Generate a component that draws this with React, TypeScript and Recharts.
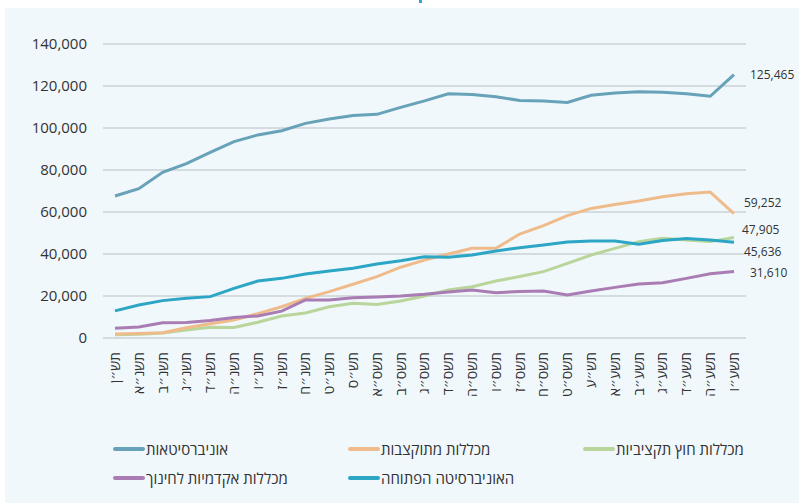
import React from "react";
import { LineChart, Line, XAxis, YAxis, CartesianGrid, Legend } from "recharts";

const years = [
  "תש״ן", "תשנ״א", "תשנ״ב", "תשנ״ג", "תשנ״ד", "תשנ״ה", "תשנ״ו", "תשנ״ז", "תשנ״ח", "תשנ״ט",
  "תש״ס", "תשס״א", "תשס״ב", "תשס״ג", "תשס״ד", "תשס״ה", "תשס״ו", "תשס״ז", "תשס״ח", "תשס״ט",
  "תש״ע", "תשע״א", "תשע״ב", "תשע״ג", "תשע״ד", "תשע״ה", "תשע״ו",
];

const universities = [
  67600, 71100, 78900, 83000, 88400, 93500, 96700, 98700, 102200, 104300,
  106000, 106500, 109800, 112900, 116300, 115900, 114900, 113100, 112900, 112200,
  115600, 116700, 117300, 117000, 116300, 115100, 125465,
];
const budgetedColleges = [
  1900, 2100, 2500, 4900, 6800, 8600, 11600, 14900, 18900, 22100,
  25600, 29200, 33700, 37100, 40000, 42700, 42700, 49500, 53500, 58300,
  61700, 63600, 65200, 67300, 68700, 69500, 59252,
];
const nonBudgetedColleges = [
  1600, 1800, 2400, 3800, 5100, 5000, 7500, 10500, 11900, 14900,
  16500, 16000, 17600, 20000, 22900, 24400, 27100, 29300, 31600, 35500,
  39500, 42700, 45900, 47500, 46700, 45900, 47905,
];
const educationColleges = [
  4600, 5200, 7300, 7400, 8300, 9800, 10500, 12800, 18100, 18100,
  19200, 19500, 20000, 20800, 21900, 22900, 21600, 22200, 22400, 20500,
  22400, 24100, 25700, 26300, 28400, 30600, 31610,
];
const openUniversity = [
  12900, 15700, 17800, 18900, 19700, 23600, 27100, 28400, 30500, 31900,
  33200, 35200, 36800, 38700, 38400, 39500, 41400, 43000, 44300, 45700,
  46200, 46200, 44600, 46400, 47400, 46700, 45636,
];

const yTicks = [0, 20000, 40000, 60000, 80000, 100000, 120000, 140000];

const seriesNames = {
  uni: "אוניברסיטאות",
  budget: "מכללות מתוקצבות",
  nonBudget: "מכללות חוץ תקציביות",
  edu: "מכללות אקדמיות לחינוך",
  open: "האוניברסיטה הפתוחה",
};

const colors = {
  uni: "#67a2b9",
  budget: "#f0bb8b",
  nonBudget: "#b9d59b",
  edu: "#a97cb4",
  open: "#2ca6c4",
};

const data = years.map((y, i) => ({
  year: y,
  uni: universities[i],
  budget: budgetedColleges[i],
  nonBudget: nonBudgetedColleges[i],
  edu: educationColleges[i],
  open: openUniversity[i],
}));

const FONT = "'Open Sans', 'DejaVu Sans', sans-serif";
const fmt = (v: number) => v.toLocaleString("en-US");

const lastIndex = years.length - 1;

const makeEndLabel = (dx: number, dy: number) => (props: any) => {
  const { x, y, index, value } = props;
  if (index !== lastIndex) return null;
  return (
    <text
      x={x + dx}
      y={y + dy}
      fill="#333"
      fontSize={12}
      fontFamily={FONT}
      dominantBaseline="central"
      textAnchor="start"
    >
      {fmt(value)}
    </text>
  );
};

const XTick = (props: any) => {
  const { x, y, payload } = props;
  return (
    <g transform={`translate(${x},${y})`}>
      <text
        transform="rotate(-90)"
        x={-12}
        y={0}
        dy="0.35em"
        textAnchor="end"
        fill="#333"
        fontSize={14}
        fontFamily={FONT}
      >
        {payload.value}
      </text>
    </g>
  );
};

const legendLayout = [
  { key: "uni", left: 113, top: 21 },
  { key: "budget", left: 348, top: 21 },
  { key: "nonBudget", left: 583, top: 21 },
  { key: "edu", left: 113, top: 50 },
  { key: "open", left: 348, top: 50 },
];

const LegendContent = () => (
  <div style={{ position: "relative", width: 799, height: 70 }}>
    {legendLayout.map((it) => (
      <div
        key={it.key}
        style={{
          position: "absolute",
          left: it.left,
          top: it.top - 11,
          height: 22,
          display: "flex",
          alignItems: "center",
          fontFamily: FONT,
          fontSize: 15,
          color: "#333",
          whiteSpace: "nowrap",
        }}
      >
        <span
          style={{
            display: "inline-block",
            width: 32,
            height: 4,
            borderRadius: 2,
            background: (colors as any)[it.key],
            marginRight: 1,
          }}
        />
        <span style={{ direction: "rtl" }}>{(seriesNames as any)[it.key]}</span>
      </div>
    ))}
  </div>
);

export default function App() {
  return (
    <div
      style={{
        position: "absolute",
        left: 0,
        top: 0,
        width: 799,
        height: 503,
        background: "#ffffff",
        overflow: "hidden",
      }}
    >
      <div
        style={{
          position: "absolute",
          left: 5,
          top: 8,
          right: 0,
          bottom: 0,
          background: "#f0f8fc",
        }}
      />
      <div
        style={{
          position: "absolute",
          left: 419,
          top: 0,
          width: 3,
          height: 3,
          background: "#2ca6d8",
        }}
      />
      <div style={{ position: "absolute", left: 0, top: 0 }}>
        <LineChart
          width={799}
          height={503}
          data={data}
          margin={{ top: 44, right: 53, bottom: 5, left: 0 }}
        >
          <CartesianGrid
            vertical={false}
            stroke="#cdd3d6"
            strokeWidth={1.5}
          />
          <XAxis
            dataKey="year"
            interval={0}
            height={90}
            axisLine={false}
            tickLine={false}
            tickSize={0}
            padding={{ left: 12, right: 12 }}
            tick={<XTick />}
          />
          <YAxis
            width={103}
            domain={[0, 140000]}
            ticks={yTicks}
            axisLine={false}
            tickLine={false}
            tickSize={0}
            tickMargin={16}
            tickFormatter={fmt}
            tick={{ fill: "#333", fontSize: 15, fontFamily: FONT }}
          />
          <Legend
            verticalAlign="bottom"
            content={<LegendContent />}
            wrapperStyle={{ left: 0, width: 799 }}
          />
          <Line
            type="linear"
            dataKey="nonBudget"
            name={seriesNames.nonBudget}
            stroke={colors.nonBudget}
            strokeWidth={3}
            dot={false}
            isAnimationActive={false}
            label={makeEndLabel(8, -8)}
          />
          <Line
            type="linear"
            dataKey="budget"
            name={seriesNames.budget}
            stroke={colors.budget}
            strokeWidth={3}
            dot={false}
            isAnimationActive={false}
            label={makeEndLabel(10, -11)}
          />
          <Line
            type="linear"
            dataKey="edu"
            name={seriesNames.edu}
            stroke={colors.edu}
            strokeWidth={3}
            dot={false}
            isAnimationActive={false}
            label={makeEndLabel(16, 1)}
          />
          <Line
            type="linear"
            dataKey="open"
            name={seriesNames.open}
            stroke={colors.open}
            strokeWidth={3}
            dot={false}
            isAnimationActive={false}
            label={makeEndLabel(10, 9)}
          />
          <Line
            type="linear"
            dataKey="uni"
            name={seriesNames.uni}
            stroke={colors.uni}
            strokeWidth={3}
            dot={false}
            isAnimationActive={false}
            label={makeEndLabel(16, 0)}
          />
        </LineChart>
      </div>
    </div>
  );
}
